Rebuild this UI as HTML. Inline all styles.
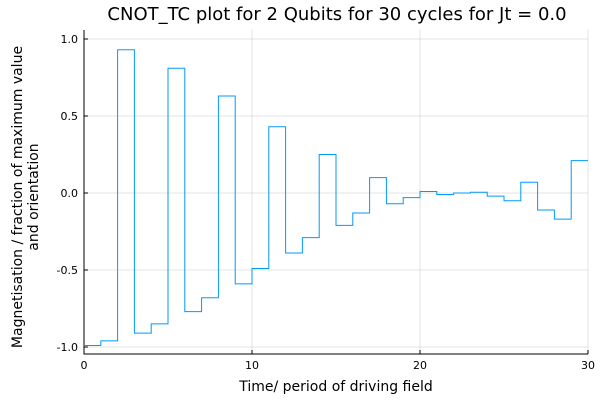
<!DOCTYPE html>
<html><head><meta charset="utf-8"><style>
body{margin:0;background:#fff;}
svg{display:block;font-family:"DejaVu Sans","Liberation Sans",sans-serif;}
</style></head><body>
<svg id="chart" width="600" height="400">
<text x="337" y="20" font-size="18" text-anchor="middle" fill="#000">CNOT_TC plot for 2 Qubits for 30 cycles for Jt = 0.0</text>
<g id="grid"></g>
<g id="axes"></g>
<path id="series" fill="none" stroke="#009af9" stroke-width="1"></path>
<text x="336" y="391" font-size="14" text-anchor="middle">Time/ period of driving field</text>
<text transform="translate(22,197) rotate(-90)" font-size="14" text-anchor="middle"><tspan x="0" dy="0">Magnetisation / fraction of maximum value</tspan><tspan x="0" dy="16">and orientation</tspan></text>
</svg>
<script>
const values=[-0.99,-0.96,0.93,-0.91,-0.85,0.81,-0.77,-0.68,0.63,-0.59,-0.49,0.43,-0.39,-0.29,0.25,-0.21,-0.13,0.10,-0.07,-0.03,0.01,-0.01,0.0,0.005,-0.02,-0.05,0.07,-0.11,-0.17,0.21];
const xTicks=[0,10,20,30];
const yTicks=[-1.0,-0.5,0.0,0.5,1.0];
const yTickLabels=["-1.0","-0.5","0.0","0.5","1.0"];
const L=84,R=588,T=30,B=354;
function xs(v){return L+(v-0)/30*(R-L);}
function ys(v){return 193-v*154;}
const ns="http://www.w3.org/2000/svg";
const grid=document.getElementById('grid'),axes=document.getElementById('axes');
function mk(tag,attrs,parent){const e=document.createElementNS(ns,tag);for(const k in attrs)e.setAttribute(k,attrs[k]);parent.appendChild(e);return e;}
xTicks.forEach(t=>{
  const g=mk('line',{x1:xs(t),x2:xs(t),y1:T,y2:B,stroke:'#000','stroke-opacity':0.1},grid);
  
  
  const tk=mk('line',{x1:xs(t),x2:xs(t),y1:B,y2:B-4,stroke:'#000'},axes);
  
  
  const lb=mk('text',{x:xs(t),y:B+15,'font-size':11,'text-anchor':'middle'},axes);
  lb.textContent=t;
  
  
});
yTicks.forEach((t,i)=>{
  const g=mk('line',{x1:L,x2:R,y1:ys(t),y2:ys(t),stroke:'#000','stroke-opacity':0.1},grid);
  
  
  const tk=mk('line',{x1:L,x2:L+4,y1:ys(t),y2:ys(t),stroke:'#000'},axes);
  
  
  const lb=mk('text',{x:L-6,y:ys(t)+4,'font-size':11,'text-anchor':'end'},axes);
  lb.textContent=yTickLabels[i];
  
  
});
const ax=mk('path',{d:`M${L},${T}V${B}H${R}`,fill:'none',stroke:'#000'},axes);


let d='';
values.forEach((v,i)=>{d+=(i?'L':'M')+xs(i)+','+ys(v)+'L'+xs(i+1)+','+ys(v);});
document.getElementById('series').setAttribute('d',d);
</script>
</body></html>
